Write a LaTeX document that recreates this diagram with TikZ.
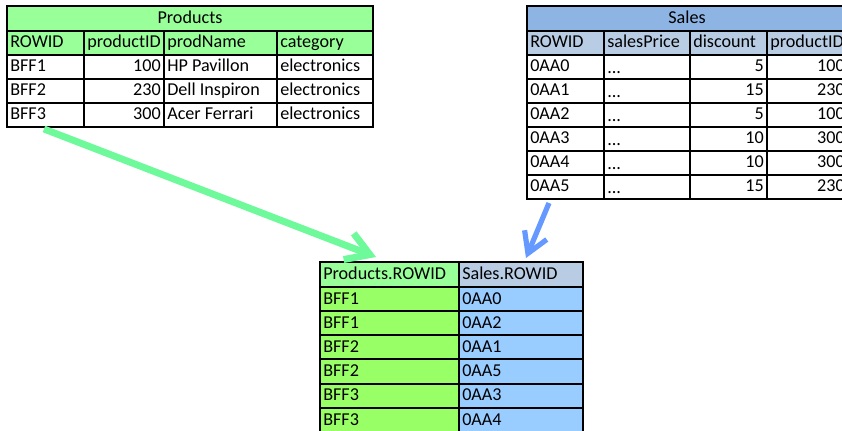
\documentclass[tikz,border=0pt]{standalone}
\usepackage{fontspec}
\setmainfont{Carlito}
\usetikzlibrary{arrows.meta}
\definecolor{prodgreen}{RGB}{153,255,153}
\definecolor{joingreen}{RGB}{153,255,102}
\definecolor{salestitle}{RGB}{141,180,226}
\definecolor{saleshead}{RGB}{184,204,228}
\definecolor{joinblue}{RGB}{153,204,255}
\definecolor{arrowgreen}{RGB}{110,250,155}
\definecolor{arrowblue}{RGB}{102,153,255}
\begin{document}
\begin{tikzpicture}[x=0.75pt,y=-0.75pt,
  cell/.style={font=\fontsize{13.6}{15}\selectfont, inner sep=0pt, text height=9.8pt, text depth=2.6pt},
  lcell/.style={cell,anchor=west},
  rcell/.style={cell,anchor=east},
  rule/.style={draw=black,line width=0.8pt},
  frame/.style={draw=black,line width=1pt},
  greenarrow/.style={draw=arrowgreen,line width=5.2pt,
    -{Straight Barb[length=17pt,width=21pt]}},
  bluearrow/.style={draw=arrowblue,line width=3.9pt,
    -{Straight Barb[length=15pt,width=18pt]}}]
\clip (0,0) rectangle (842,431);
\fill[white] (0,0) rectangle (842,431);

% ---------- Products table ----------
\fill[prodgreen] (7,6) rectangle (373,55);
\foreach \y in {31,55,79,103} \draw[rule] (7,\y) -- (373,\y);
\foreach \x in {84,164,277} \draw[rule] (\x,31) -- (\x,127);
\draw[frame] (7,6) rectangle (373,127);
\node[cell] (ptitle) at (190,18.5) {Products};
\node[lcell] (ph1) at (10,43) {ROWID};
\node[lcell] (ph2) at (87,43) {productID};
\node[lcell] (ph3) at (167,43) {prodName};
\node[lcell] (ph4) at (280,43) {category};
\foreach \id/\pid/\pname/\cat [count=\i] in
  {BFF1/100/HP Pavillon/electronics,
   BFF2/230/Dell Inspiron/electronics,
   BFF3/300/Acer Ferrari/electronics} {
  \node[lcell] (p-\i-1) at (10,43+24*\i) {\id};
  \node[rcell] (p-\i-2) at (161,43+24*\i) {\pid};
  \node[lcell] (p-\i-3) at (167,43+24*\i) {\pname};
  \node[lcell] (p-\i-4) at (280,43+24*\i) {\cat};
}

% ---------- Sales table ----------
\fill[salestitle] (527,6) rectangle (850,31);
\fill[saleshead] (527,31) rectangle (850,55);
\foreach \y in {31,55,79,103,127,151,175} \draw[rule] (527,\y) -- (850,\y);
\foreach \x in {604,690,767} \draw[rule] (\x,31) -- (\x,199);
\draw[frame] (527,6) rectangle (847,199);
\node[cell] (stitle) at (687,18.5) {Sales};
\node[lcell] (sh1) at (530,43) {ROWID};
\node[lcell] (sh2) at (607,43) {salesPrice};
\node[lcell] (sh3) at (693,43) {discount};
\node[lcell] (sh4) at (770,43) {productID};
\foreach \id/\disc/\pid [count=\i] in
  {0AA0/5/100, 0AA1/15/230, 0AA2/5/100,
   0AA3/10/300, 0AA4/10/300, 0AA5/15/230} {
  \node[lcell] (s-\i-1) at (530,43+24*\i) {\id};
  \node[lcell] (s-\i-2) at (607,45+24*\i) {...};
  \node[rcell] (s-\i-3) at (764,43+24*\i) {\disc};
  \node[rcell] (s-\i-4) at (845,43+24*\i) {\pid};
}

% ---------- Join result ----------
\fill[prodgreen] (320,262) rectangle (459,287);
\fill[saleshead] (459,262) rectangle (583,287);
\fill[joingreen] (320,287) rectangle (459,440);
\fill[joinblue] (459,287) rectangle (583,440);
\foreach \y in {287,311,335,359,384,408,432} \draw[rule] (320,\y) -- (583,\y);
\draw[rule] (459,262) -- (459,440);
\draw[frame] (320,440) -- (320,262) -- (583,262) -- (583,440);
\node[lcell] (jh1) at (323,274.5) {Products.ROWID};
\node[lcell] (jh2) at (462,274.5) {Sales.ROWID};
\foreach \pr/\sr [count=\i] in
  {BFF1/0AA0, BFF1/0AA2, BFF2/0AA1, BFF2/0AA5, BFF3/0AA3, BFF3/0AA4} {
  \node[lcell] (j-\i-1) at (323,275+24.2*\i) {\pr};
  \node[lcell] (j-\i-2) at (462,275+24.2*\i) {\sr};
}

% ---------- Arrows ----------
\coordinate (gstart) at (44,129);
\coordinate (gtip) at (376,257);
\coordinate (bstart) at (549,203);
\coordinate (btip) at (526,258);
\draw[greenarrow] (gstart) -- (gtip);
\draw[bluearrow] (bstart) -- (btip);
\end{tikzpicture}
\end{document}
